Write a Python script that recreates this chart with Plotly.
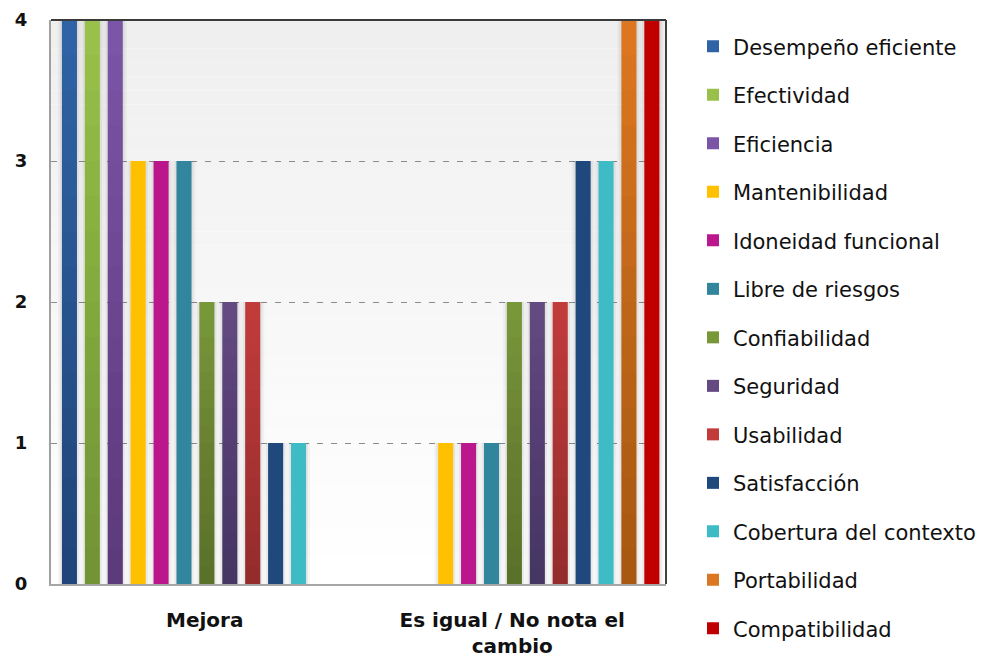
import plotly.graph_objects as go

# Two answer categories, thirteen quality attributes
categories = ["Mejora", "Es igual / No nota el cambio"]
category_labels = ["Mejora", "Es igual / No nota el<br>cambio"]

series_names = [
    "Desempeño eficiente",
    "Efectividad",
    "Eficiencia",
    "Mantenibilidad",
    "Idoneidad funcional",
    "Libre de riesgos",
    "Confiabilidad",
    "Seguridad",
    "Usabilidad",
    "Satisfacción",
    "Cobertura del contexto",
    "Portabilidad",
    "Compatibilidad",
]

mejora = [4, 4, 4, 3, 3, 3, 2, 2, 2, 1, 1, 0, 0]
es_igual = [0, 0, 0, 1, 1, 1, 2, 2, 2, 3, 3, 4, 4]

# fill colour and whether the bar fades darker toward its base
series_style = [
    ("#2F63A5", True), ("#98C04A", True), ("#7B55A6", True),
    ("#FFC000", False), ("#BB168C", False), ("#31859C", False),
    ("#789739", True), ("#634B82", True), ("#C23B3B", True),
    ("#1F497D", False), ("#3EBCC5", False), ("#DC7620", True),
    ("#C00000", False),
]

y_ticks = [0, 1, 2, 3, 4]

FONT = "DejaVu Sans, Verdana, sans-serif"

# bar placement inside each category slot (category units)
SLOT = 0.0745
BAR_W = 0.049
START = -0.4645

# vertical shading of the bars: stacked translucent layers, darker at the base
SHADE_STEPS = 16
SHADE_ALPHA = 0.014

fig = go.Figure()

for i, name in enumerate(series_names):
    vals = [mejora[i], es_igual[i]]
    off = START + i * SLOT
    color, shaded = series_style[i]
    # soft drop shadow behind each bar
    for pad, alpha in ((0.013, 0.035), (0.0065, 0.05)):
        fig.add_bar(
            x=categories, y=vals, width=BAR_W + 2 * pad, offset=off - pad,
            marker=dict(color=f"rgba(0,0,0,{alpha})", line_width=0),
            showlegend=False, hoverinfo="skip",
        )
    fig.add_bar(
        x=categories, y=vals, name=name, width=BAR_W, offset=off,
        marker=dict(color=color, line_width=0),
        legendgroup=name,
    )
    if shaded:
        for k in range(1, SHADE_STEPS):
            frac = k / SHADE_STEPS
            fig.add_bar(
                x=categories, y=[v * frac for v in vals], width=BAR_W, offset=off,
                marker=dict(color=f"rgba(0,0,0,{SHADE_ALPHA})", line_width=0),
                showlegend=False, hoverinfo="skip",
            )

# plot-area background fading from light grey at the top to white
shapes = []
N = 40
for k in range(N):
    t = k / (N - 1)
    c = round(0xEF + (0xFF - 0xEF) * (1 - t))
    shapes.append(dict(
        type="rect", xref="x domain", yref="y domain",
        x0=0, x1=1, y0=k / N, y1=(k + 1) / N,
        fillcolor=f"rgb({c},{c},{c})", line_width=0, layer="below",
    ))
# dark top and right frame
shapes.append(dict(type="line", xref="x domain", yref="y domain",
                   x0=0, x1=1, y0=1, y1=1, line=dict(color="#3A3A3A", width=2)))
shapes.append(dict(type="line", xref="x domain", yref="y domain",
                   x0=1, x1=1, y0=0, y1=1, line=dict(color="#404040", width=2)))

fig.update_layout(
    width=987, height=662,
    margin=dict(l=51, r=321, t=20, b=78, autoexpand=False),
    barmode="overlay",
    paper_bgcolor="white",
    plot_bgcolor="white",
    shapes=shapes,
    font=dict(family=FONT, color="#111111"),
    showlegend=True,
    legend=dict(
        x=(693 - 51) / 615, xanchor="left",
        y=0.989, yanchor="top",
        font=dict(family=FONT, size=21, color="#111111"),
        tracegroupgap=18.2,
        maxheight=660,
        bgcolor="rgba(0,0,0,0)",
    ),
    xaxis=dict(
        type="category",
        range=[-0.5, 1.5],
        tickmode="array", tickvals=categories, ticktext=category_labels,
        tickfont=dict(family=FONT, size=20, color="#111111", weight="bold"),
        showline=True, linecolor="#A6A6A6", linewidth=2,
        showgrid=False, ticks="", ticklabelstandoff=17,
    ),
    yaxis=dict(
        range=[0, 4],
        tickmode="array", tickvals=y_ticks,
        tickfont=dict(family=FONT, size=18, color="#111111", weight="bold"),
        showline=True, linecolor="#A0A0A0", linewidth=2,
        showgrid=True, gridcolor="#8C8C8C", gridwidth=1.2, griddash="6px,8px",
        zeroline=False, ticks="", ticklabelstandoff=18,
    ),
)

fig.write_html("out.html")
